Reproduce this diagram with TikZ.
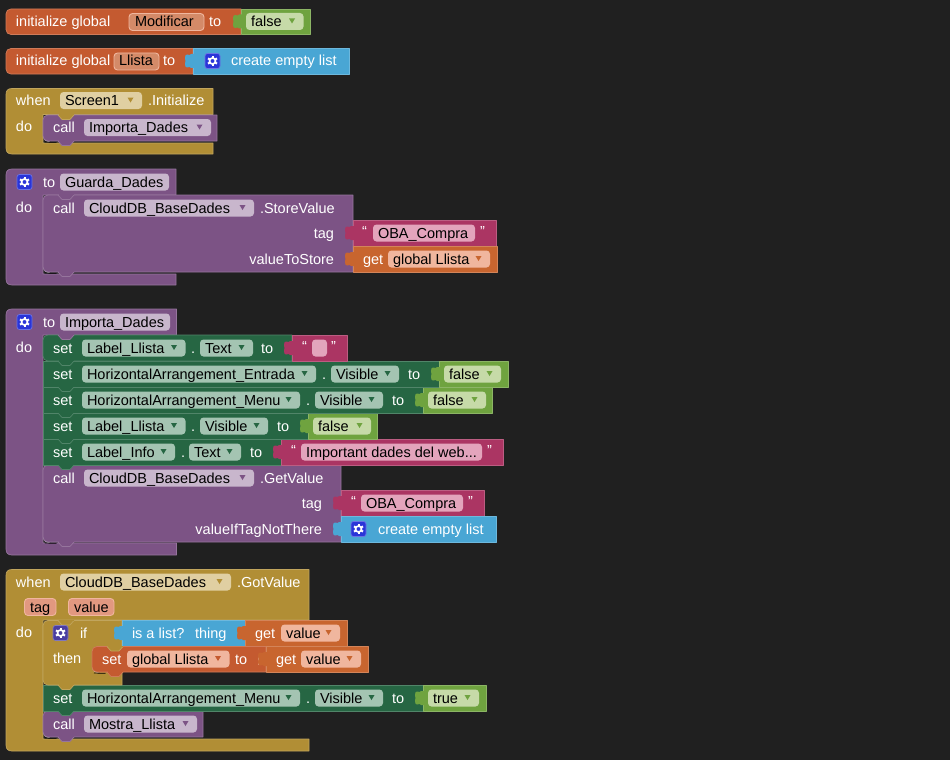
\documentclass[tikz,border=0pt]{standalone}
\usepackage{fontspec}
\setmainfont{Liberation Sans}
\definecolor{bg}{HTML}{202020}
\definecolor{og}{HTML}{C45A30}
\definecolor{ogt}{HTML}{C8652F}
\definecolor{lg}{HTML}{6FA33F}
\definecolor{bl}{HTML}{49A6D4}
\definecolor{gd}{HTML}{B18E35}
\definecolor{pu}{HTML}{7C5385}
\definecolor{dg}{HTML}{266643}
\definecolor{mg}{HTML}{AB3563}
\definecolor{fog}{HTML}{D48A68}
\definecolor{fogl}{HTML}{F0B69E}
\definecolor{flg}{HTML}{C6DAA8}
\definecolor{fgd}{HTML}{E0CFA2}
\definecolor{fpu}{HTML}{C8B6CC}
\definecolor{fdg}{HTML}{A4C4B2}
\definecolor{fmg}{HTML}{E3A4BC}
\definecolor{ftg}{HTML}{E29880}
\definecolor{gearb}{HTML}{2A35D8}
\definecolor{gearp}{HTML}{4A3DA0}
\newcount\nc
\newcommand\nxt{\global\advance\nc by 1 }
\newcommand\tx[3]{\nxt\node[txt,anchor=base west] (n\the\nc) at (#1,#2+5) {#3};}
\newcommand\txr[3]{\nxt\node[txt,anchor=base east] (n\the\nc) at (#1,#2+5) {#3};}
% rectangular block
\newcommand\blk[5]{\draw[blockedge,fill=#5,draw=#5!80!white] (#1,#2) rectangle (#3,#4);}
% statement with rounded left
\newcommand\stm[5]{\draw[blockedge,fill=#5,draw=#5!80!white] (#1+5,#2) -- (#3,#2) -- (#3,#4) -- (#1+5,#4) .. controls (#1+2,#4) and (#1,#4-2) .. (#1,#4-5) -- (#1,#2+5) .. controls (#1,#2+2) and (#1+2,#2) .. (#1+5,#2) -- cycle;}
% C container: x1 x2 y1 y2 xi y3 x4 y4 colour
\newcommand\cshape[9]{\draw[blockedge,fill=#9,draw=#9!80!white] (#1+6,#3) -- (#2,#3) -- (#2,#4) -- (#5,#4) -- (#5,#6) -- (#7,#6) -- (#7,#8) -- (#1+6,#8) .. controls (#1+2,#8) and (#1,#8-2) .. (#1,#8-6) -- (#1,#3+6) .. controls (#1,#3+2) and (#1+2,#3) .. (#1+6,#3) -- cycle;}
% output tab
\newcommand\tabb[3]{\fill[#3] (#1+1,#2-7) -- (#1-2,#2-7) .. controls (#1-3,#2-5) and (#1-3,#2-6.5) .. (#1-6,#2-6.5) .. controls (#1-7.5,#2-6.5) and (#1-8,#2-5) .. (#1-8,#2-3) .. controls (#1-7.4,#2-1) and (#1-7.4,#2+1) .. (#1-8,#2+3) .. controls (#1-8,#2+5) and (#1-7.5,#2+6.5) .. (#1-6,#2+6.5) .. controls (#1-3,#2+6.5) and (#1-3,#2+5) .. (#1-2,#2+7) -- (#1+1,#2+7) -- cycle;}
% statement bump below
\newcommand\bump[3]{\draw[blockedge,fill=#3,draw=#3!80!white] (#1+15,#2) -- (#1+19,#2+4.5) -- (#1+27,#2+4.5) -- (#1+31,#2); \fill[#3] (#1+15.5,#2-1) rectangle (#1+30.5,#2+.3);}
\newcommand\cor[2]{\draw[line width=.8pt,white!85!black] (#1,#2-6) .. controls (#1,#2-2) and (#1+2,#2+.5) .. (#1+6,#2+.5); \draw[line width=.8pt,black] (#1+1.5,#2+1) -- (#1+13,#2+1.3);}
% field: x1 x2 yc fill text arrowcolour
\newcommand\fld[6]{\fill[#4,rounded corners=3.5pt] (#1,#3-8.5) rectangle (#2,#3+8.5);
 \fill[#6] (#2-14.5,#3-3) -- (#2-8.5,#3-3) -- (#2-11.5,#3+2) -- cycle;
 \nxt\node[ftxt,anchor=base west] (n\the\nc) at (#1+5,#3+5) {#5};}
\newcommand\gear[3]{\draw[fill=#3,draw=#3!70!white,line width=.7pt,rounded corners=2.5pt] (#1,#2-7.5) rectangle (#1+15,#2+7.5);
 \foreach \a in {30,90,...,330}{\draw[white,line width=2pt] (#1+7.5,#2) ++(\a:3) -- ++(\a:2.2);}
 \draw[white,line width=1.7pt] (#1+7.5,#2) circle (3);}
\tikzset{
 x=1pt,y=-1pt,
 txt/.style={inner sep=0pt,outer sep=0pt,text=white,font=\fontsize{14.5}{16}\selectfont},
 ftxt/.style={inner sep=0pt,outer sep=0pt,text=black,font=\fontsize{14.5}{16}\selectfont},
 blockedge/.style={line width=.7pt,line join=round}
}
\begin{document}
\begin{tikzpicture}
\fill[bg] (0,0) rectangle (950,760);
\useasboundingbox (0,0) rectangle (950,760);
% === Block A
\stm{6}{9}{241}{34.5}{og}
\blk{241}{9}{310}{34.5}{lg}
\tabb{241}{21.5}{lg}
\tx{16}{21.5}{initialize global}
\draw[fill=fog,draw=fogl,line width=.9pt,rounded corners=3.5pt] (129,13.5) rectangle (204,30.5);
\nxt\node[ftxt,anchor=base west] (n\the\nc) at (135,26.5) {Modificar};
\tx{209}{21.5}{to}
\fld{246}{303.5}{21.5}{flg}{false}{lg}
% === Block B
\stm{6}{48.5}{193}{74}{og}
\blk{193}{48.5}{349}{74}{bl}
\tabb{193}{61}{bl}
\tx{16}{61}{initialize global}
\draw[fill=fog,draw=fogl,line width=.9pt,rounded corners=3.5pt] (114,53) rectangle (159,70);
\nxt\node[ftxt,anchor=base west] (n\the\nc) at (119,66) {Llista};
\tx{163}{61}{to}
\gear{205}{61}{gearb}
\tx{231}{61}{create empty list}
% === Block C
\cshape{6}{213}{88.5}{114.5}{43}{143}{213}{154}{gd}
\tx{16}{100.5}{when}
\fld{60}{142}{100.5}{fgd}{Screen1}{gd}
\tx{148}{100.5}{.Initialize}
\tx{16}{126}{do}
\cor{43.5}{141}
\stm{43}{115}{217}{141}{pu}
\bump{43}{115}{gd}
\bump{43}{141}{pu}
\tx{53}{127.5}{call}
\fld{84}{211}{127.5}{fpu}{Importa\_Dades}{pu}
% === Block D
\cshape{6}{176}{169}{195}{43}{274}{176}{285}{pu}
\gear{17}{182}{gearb}
\tx{43}{182}{to}
\fld{60}{169}{182}{fpu}{Guarda\_Dades}{fpu}
\tx{16}{207}{do}
\cor{43.5}{272}
\stm{43}{195}{353}{272}{pu}
\bump{43}{195}{pu}
\bump{43}{272}{pu}
\tx{53}{208}{call}
\fld{84}{254}{208}{fpu}{CloudDB\_BaseDades}{pu}
\tx{260}{208}{.StoreValue}
\txr{334}{233}{tag}
\txr{334}{259}{valueToStore}
\blk{353}{220.5}{496}{246}{mg}
\tabb{353}{233}{mg}
\tx{362}{231}{“}
\fld{373}{475}{233}{fmg}{OBA\_Compra}{fmg}
\tx{480}{231}{”}
\blk{353}{246.5}{497}{272}{ogt}
\tabb{353}{259}{ogt}
\tx{363}{259}{get}
\fld{388}{490}{259}{fogl}{global Llista}{ogt}
% === Block E
\cshape{6}{176.5}{309}{335}{43}{543}{176.5}{555}{pu}
\gear{17}{322}{gearb}
\tx{43}{322}{to}
\fld{60}{170}{322}{fpu}{Importa\_Dades}{fpu}
\tx{16}{347}{do}
\cor{43.5}{542}
% call GetValue
\stm{43}{465}{341}{542}{pu}
\bump{43}{542}{pu}
\tx{53}{478}{call}
\fld{84}{254}{478}{fpu}{CloudDB\_BaseDades}{pu}
\tx{260}{478}{.GetValue}
\txr{322}{503}{tag}
\txr{322}{529}{valueIfTagNotThere}
\blk{341}{490.5}{484}{516}{mg}
\tabb{341}{503}{mg}
\tx{351}{501}{“}
\fld{361}{463}{503}{fmg}{OBA\_Compra}{fmg}
\tx{468}{501}{”}
\blk{341}{516.5}{496}{542}{bl}
\tabb{341}{529}{bl}
\gear{351}{529}{gearb}
\tx{378}{529}{create empty list}
% Row 5
\blk{43}{439}{281}{465}{dg}
\bump{43}{465}{dg}
\tx{53}{452}{set}
\fld{82}{175}{452}{fdg}{Label\_Info}{dg}
\tx{181}{452}{.}
\fld{189}{241}{452}{fdg}{Text}{dg}
\tx{250}{452}{to}
\blk{281}{439.5}{503.5}{465}{mg}
\tabb{281}{452}{mg}
\tx{291}{450}{“}
\fld{301}{482}{452}{fmg}{Important dades del web...}{fmg}
\tx{487}{450}{”}
% Row 4
\blk{43}{413}{308}{439}{dg}
\bump{43}{439}{dg}
\tx{53}{426}{set}
\fld{82}{185.5}{426}{fdg}{Label\_Llista}{dg}
\tx{191}{426}{.}
\fld{200}{268}{426}{fdg}{Visible}{dg}
\tx{277}{426}{to}
\blk{308}{413.5}{377}{439}{lg}
\tabb{308}{426}{lg}
\fld{313}{371}{426}{flg}{false}{lg}
% Row 3
\blk{43}{387}{423}{413}{dg}
\bump{43}{413}{dg}
\tx{53}{400}{set}
\fld{82}{300}{400}{fdg}{HorizontalArrangement\_Menu}{dg}
\tx{306}{400}{.}
\fld{315}{383}{400}{fdg}{Visible}{dg}
\tx{392}{400}{to}
\blk{423}{387.5}{492}{413}{lg}
\tabb{423}{400}{lg}
\fld{428}{486}{400}{flg}{false}{lg}
% Row 2
\blk{43}{361}{439}{387}{dg}
\bump{43}{387}{dg}
\tx{53}{374}{set}
\fld{82}{316}{374}{fdg}{HorizontalArrangement\_Entrada}{dg}
\tx{322}{374}{.}
\fld{331}{399}{374}{fdg}{Visible}{dg}
\tx{408}{374}{to}
\blk{439}{361.5}{508}{387}{lg}
\tabb{439}{374}{lg}
\fld{444}{501}{374}{flg}{false}{lg}
% Row 1
\stm{43}{335}{292}{361}{dg}
\bump{43}{335}{pu}
\bump{43}{361}{dg}
\tx{53}{348}{set}
\fld{82}{185.5}{348}{fdg}{Label\_Llista}{dg}
\tx{191}{348}{.}
\fld{200}{253}{348}{fdg}{Text}{dg}
\tx{261}{348}{to}
\blk{292}{335.5}{347.5}{361}{mg}
\tabb{292}{348}{mg}
\tx{302}{346}{“}
\fill[fmg,rounded corners=3.5pt] (312,339.5) rectangle (327,356.5);
\tx{331}{346}{”}
% === Block F
\cshape{6}{309}{569.5}{620}{43}{739}{309}{751}{gd}
\tx{16}{582}{when}
\fld{60}{231}{582}{fgd}{CloudDB\_BaseDades}{gd}
\tx{237}{582}{.GotValue}
\draw[fill=ftg,draw=fogl,line width=.9pt,rounded corners=3.5pt] (24.5,598.5) rectangle (56,615.5);
\nxt\node[ftxt,anchor=base west] (n\the\nc) at (30,612) {tag};
\draw[fill=ftg,draw=fogl,line width=.9pt,rounded corners=3.5pt] (68.5,598.5) rectangle (114,615.5);
\nxt\node[ftxt,anchor=base west] (n\the\nc) at (74,612) {value};
\tx{16}{632}{do}
% Mostra
\cor{43.5}{737}
\stm{43}{711}{203}{737}{pu}
\bump{43}{737}{pu}
\tx{53}{724}{call}
\fld{84}{197}{724}{fpu}{Mostra\_Llista}{pu}
% Green row
\blk{43}{685}{423}{711}{dg}
\bump{43}{711}{dg}
\tx{53}{698}{set}
\fld{82}{300}{698}{fdg}{HorizontalArrangement\_Menu}{dg}
\tx{306}{698}{.}
\fld{315}{383}{698}{fdg}{Visible}{dg}
\tx{392}{698}{to}
\blk{423}{685.5}{486}{711}{lg}
\tabb{423}{698}{lg}
\fld{428}{479}{698}{flg}{true}{lg}
% if block
\stm{43}{620.5}{122}{685}{gd}
\bump{43}{620.5}{gd}
\bump{43}{685}{gd}
\gear{53}{633}{gearp}
\tx{80}{633}{if}
\tx{53}{658}{then}
\blk{122}{620.5}{245}{646}{bl}
\tabb{122}{633}{bl}
\tx{132}{633}{is a list?}
\tx{195}{633}{thing}
\blk{245}{620.5}{347}{646}{ogt}
\tabb{245}{633}{ogt}
\tx{255}{633}{get}
\fld{281}{340}{633}{fogl}{value}{ogt}
\cor{92.5}{672}
\stm{92}{646.5}{266}{672}{og}
\bump{92}{646.5}{gd}
\bump{92}{672}{og}
\tx{102}{659}{set}
\fld{127}{229.5}{659}{fogl}{global Llista}{og}
\tx{235}{659}{to}
\blk{266}{646.5}{368}{672}{ogt}
\draw[line width=.6pt,fogl] (258,655) -- (258,665);
\tabb{266}{659}{ogt}
\tx{276}{659}{get}
\fld{301}{361}{659}{fogl}{value}{ogt}
\end{tikzpicture}
\end{document}
